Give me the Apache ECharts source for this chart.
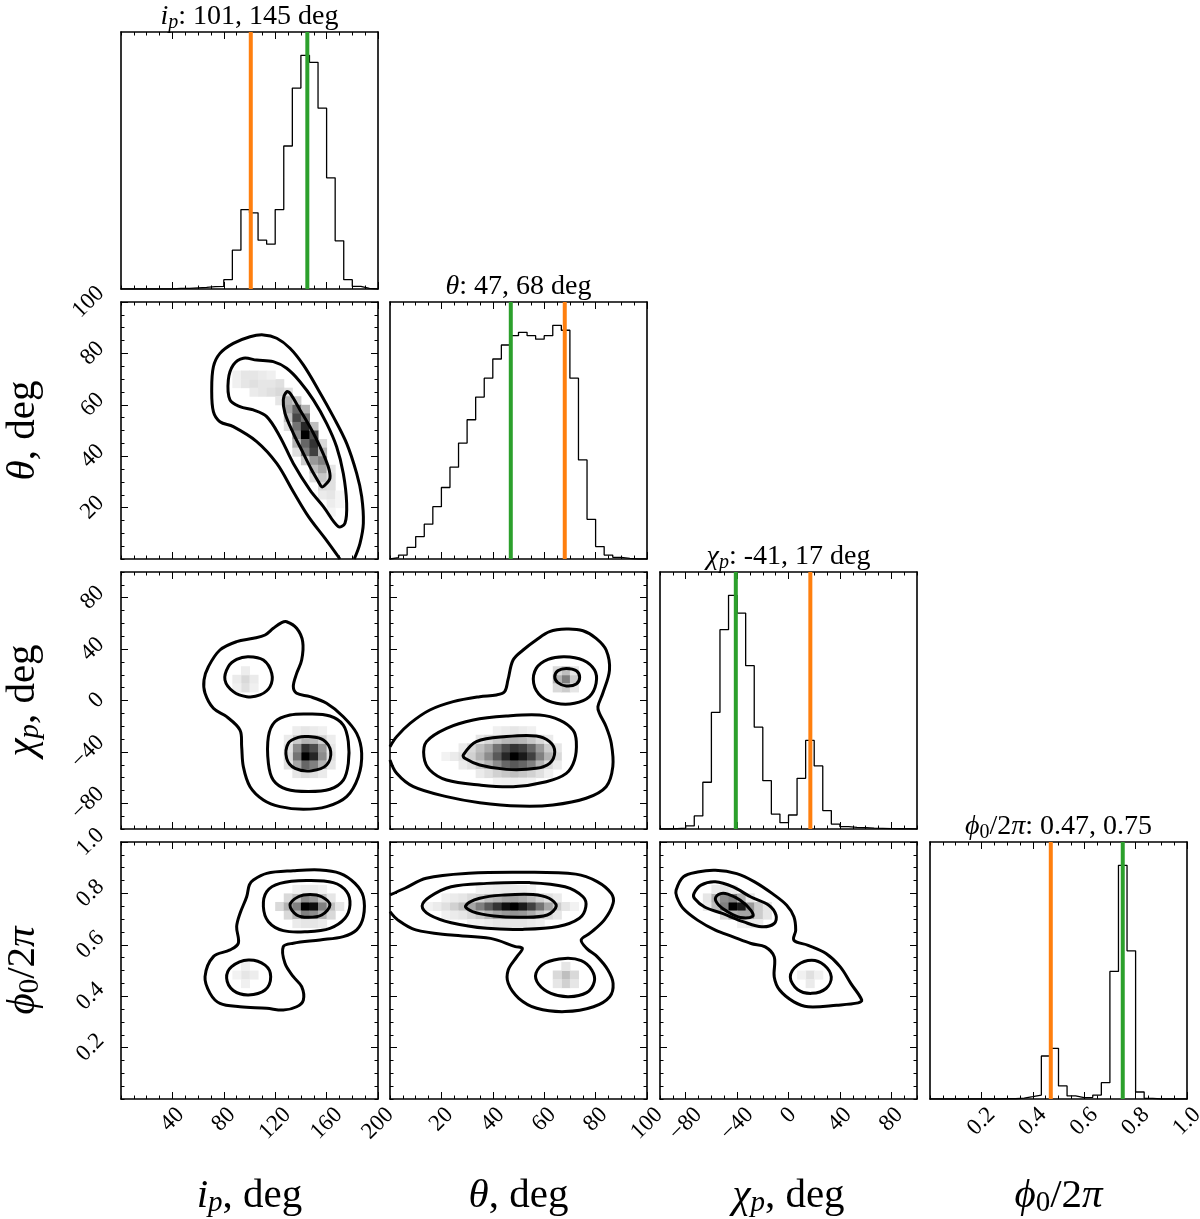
<!DOCTYPE html>
<html>
<head>
<meta charset="utf-8">
<script src="https://cdn.jsdelivr.net/npm/echarts@6/dist/echarts.min.js"></script>
<style>
  html, body { margin: 0; background: #fff; }
  #chart { width: 1200px; height: 1219px; }
</style>
</head>
<body>
<div id="chart"></div>
<script>
'use strict';
const FONT = "'Liberation Serif', 'DejaVu Serif', serif";

// axis ranges and labelled ticks
const ipRange = [0, 200];
const thetaRange = [0, 100];
const chiRange = [-100, 100];
const phiRange = [0, 1];
const ipTicks = [40, 80, 120, 160, 200];
const thetaTicks = [20, 40, 60, 80, 100];
const chiTicks = [-80, -40, 0, 40, 80];
const phiTicks = [0.2, 0.4, 0.6, 0.8, 1.0];

// 1d histograms, 30 bins, peak = 100
const ipHist = [0, 0, 0, 0, 0, 0, 0.3, 0.3, 0.5, 0.7, 1.0, 1.1, 4.0, 16.6, 34.0, 32.6, 20.9, 19.2, 34.0, 61.2, 86.0, 100, 97.0, 77.4, 47.6, 20.6, 4.0, 1.1, 0.3, 0];
const thetaHist = [0.6, 1.7, 5.0, 9.6, 14.9, 22.4, 30.6, 39.3, 49.6, 59.6, 69.3, 77.4, 85.6, 91.6, 95.6, 97.0, 95.6, 94.1, 95.6, 100, 97.9, 77.4, 42.4, 17.0, 5.3, 1.7, 0.7, 0.3, 0, 0];
const chiHist = [0, 0.2, 0.4, 1.3, 5.6, 20.0, 49.9, 85.3, 100, 92.4, 69.9, 43.6, 20.7, 6.4, 2.7, 6.0, 21.7, 37.9, 27.0, 7.9, 2.1, 1.0, 0.7, 0.6, 0.4, 0.3, 0.2, 0.1, 0.1, 0];
const phiHist = [0, 0, 0, 0, 0, 0, 0, 0, 0.1, 0.1, 0.4, 1.0, 1.7, 18.4, 21.7, 5.6, 1.3, 0.6, 0.7, 1.7, 7.0, 54.6, 100, 63.4, 3.0, 0.3, 0, 0, 0, 0];

// marker lines
const ipMarks = { orange: 101, green: 145 };
const thetaMarks = { orange: 68, green: 47 };
const chiMarks = { orange: 17, green: -41 };
const phiMarks = { orange: 0.47, green: 0.75 };

// 2d density cells: [x bin, y bin, darkness]
const thetaIpCells = [
  [13,20,0.06],[14,20,0.1],[15,20,0.12],[16,20,0.1],[17,20,0.1],[18,20,0.12],
  [13,21,0.06],[14,21,0.1],[15,21,0.1],[16,21,0.08],[17,21,0.06],
  [15,19,0.08],[16,19,0.1],[17,19,0.12],[18,19,0.15],[19,19,0.12],[18,18,0.1],
  [19,18,0.3],[19,17,0.35],[19,16,0.25],[19,15,0.12],
  [20,18,0.2],[20,17,0.6],[20,16,0.72],[20,15,0.55],[20,14,0.45],[20,13,0.3],[20,12,0.12],
  [21,17,0.3],[21,16,0.55],[21,15,0.85],[21,14,1.0],[21,13,0.6],[21,12,0.5],[21,11,0.2],
  [22,15,0.25],[22,14,0.7],[22,13,0.8],[22,12,0.75],[22,11,0.4],[22,10,0.25],[22,9,0.12],
  [23,13,0.15],[23,12,0.3],[23,11,0.5],[23,10,0.35],[23,9,0.22],[23,8,0.15],[23,7,0.08],
  [24,10,0.1],[24,9,0.12],[24,8,0.12],[24,7,0.1],[24,6,0.07],[24,5,0.04],[25,7,0.04],[25,6,0.04]
];
const chiIpCells = [
  [21,8,1.0],[22,8,0.85],[21,9,0.8],[22,9,0.7],[20,8,0.55],[20,9,0.45],[23,8,0.45],[23,9,0.4],
  [21,7,0.6],[22,7,0.5],[20,7,0.35],[23,7,0.3],[21,10,0.3],[22,10,0.28],[20,10,0.2],[23,10,0.18],
  [19,7,0.12],[19,8,0.15],[19,9,0.12],[19,10,0.08],[24,7,0.1],[24,8,0.12],[24,9,0.1],[24,10,0.07],
  [20,6,0.1],[21,6,0.14],[22,6,0.12],[23,6,0.08],[20,11,0.07],[21,11,0.1],[22,11,0.08],[23,11,0.06],
  [14,17,0.15],[14,16,0.12],[13,17,0.08],[15,17,0.08],[14,18,0.07],[13,16,0.06],[15,16,0.06]
];
const chiThetaCells = [
  [6,8,0.05],[7,8,0.08],[8,8,0.12],[9,8,0.18],[10,8,0.3],[11,8,0.45],[12,8,0.65],[13,8,0.85],[14,8,1.0],[15,8,0.9],[16,8,0.75],[17,8,0.5],[18,8,0.3],[19,8,0.15],
  [8,9,0.08],[9,9,0.15],[10,9,0.25],[11,9,0.35],[12,9,0.55],[13,9,0.7],[14,9,0.8],[15,9,0.75],[16,9,0.6],[17,9,0.4],[18,9,0.2],[19,9,0.1],
  [8,7,0.08],[9,7,0.12],[10,7,0.2],[11,7,0.3],[12,7,0.45],[13,7,0.6],[14,7,0.65],[15,7,0.6],[16,7,0.5],[17,7,0.3],[18,7,0.15],[19,7,0.08],
  [10,10,0.1],[11,10,0.15],[12,10,0.22],[13,10,0.28],[14,10,0.3],[15,10,0.28],[16,10,0.22],[17,10,0.15],[18,10,0.08],
  [10,6,0.08],[11,6,0.12],[12,6,0.18],[13,6,0.22],[14,6,0.25],[15,6,0.22],[16,6,0.18],[17,6,0.12],[18,6,0.06],
  [12,11,0.06],[13,11,0.08],[14,11,0.1],[15,11,0.08],[16,11,0.06],
  [12,5,0.05],[13,5,0.06],[14,5,0.07],[15,5,0.06],[16,5,0.05],
  [20,17,0.5],[19,17,0.3],[20,18,0.25],[21,17,0.2],[20,16,0.2],[19,18,0.15],[21,16,0.1],[19,16,0.15],[21,18,0.1]
];
const phiIpCells = [
  [18,22,0.15],[19,22,0.3],[20,22,0.5],[21,22,1.0],[22,22,0.95],[23,22,0.5],[24,22,0.25],[25,22,0.1],
  [19,21,0.15],[20,21,0.3],[21,21,0.5],[22,21,0.45],[23,21,0.3],[24,21,0.15],
  [19,23,0.15],[20,23,0.25],[21,23,0.45],[22,23,0.4],[23,23,0.25],[24,23,0.1],
  [20,20,0.08],[21,20,0.1],[22,20,0.1],[23,20,0.08],[20,24,0.06],[21,24,0.08],[22,24,0.08],[23,24,0.06],
  [14,14,0.1],[15,14,0.07],[14,13,0.06],[14,15,0.06],[13,14,0.05]
];
const phiThetaCells = [
  [4,22,0.05],[5,22,0.08],[6,22,0.12],[7,22,0.18],[8,22,0.25],[9,22,0.35],[10,22,0.5],[11,22,0.65],[12,22,0.8],[13,22,0.95],[14,22,1.0],[15,22,0.9],[16,22,0.75],[17,22,0.55],[18,22,0.35],[19,22,0.2],[20,22,0.1],[21,22,0.05],
  [6,21,0.06],[7,21,0.08],[8,21,0.1],[9,21,0.15],[10,21,0.2],[11,21,0.28],[12,21,0.35],[13,21,0.4],[14,21,0.42],[15,21,0.4],[16,21,0.32],[17,21,0.22],[18,21,0.15],[19,21,0.1],
  [6,23,0.06],[7,23,0.08],[8,23,0.1],[9,23,0.14],[10,23,0.18],[11,23,0.25],[12,23,0.3],[13,23,0.35],[14,23,0.36],[15,23,0.32],[16,23,0.26],[17,23,0.18],[18,23,0.12],[19,23,0.08],
  [9,20,0.05],[10,20,0.06],[11,20,0.08],[12,20,0.1],[13,20,0.1],[14,20,0.1],[15,20,0.1],[16,20,0.08],[17,20,0.06],
  [10,24,0.05],[11,24,0.06],[12,24,0.07],[13,24,0.08],[14,24,0.08],[15,24,0.07],[16,24,0.05],
  [20,14,0.25],[19,14,0.15],[21,14,0.15],[20,13,0.18],[19,13,0.1],[21,13,0.1],[20,15,0.1]
];
const phiChiCells = [
  [5,22,0.08],[6,22,0.25],[7,22,0.5],[8,22,1.0],[9,22,0.9],[10,22,0.4],[11,22,0.2],[12,22,0.1],
  [5,23,0.1],[6,23,0.3],[7,23,0.45],[8,23,0.5],[9,23,0.3],[10,23,0.1],
  [7,21,0.15],[8,21,0.3],[9,21,0.35],[10,21,0.35],[11,21,0.2],[12,21,0.1],
  [6,24,0.08],[7,24,0.1],[8,24,0.08],[9,20,0.06],[10,20,0.08],[11,20,0.08],
  [17,14,0.12],[17,13,0.08],[16,14,0.06],[18,14,0.06]
];

// contour lines, data units
const thetaIpOuter = [[170.4,0],[158.8,8.0],[145.9,16.5],[134.1,26.2],[121.2,37.2],[105.6,45.7],[87.4,51.5],[77.0,53.4],[71.9,57.3],[70.6,65.8],[71.9,74.8],[77.0,80.0],[87.4,83.9],[100.4,86.5],[110.8,87.2],[121.2,85.9],[131.5,82.0],[141.9,75.5],[153.6,65.8],[165.2,55.4],[175.6,45.0],[183.4,33.3],[187.3,24.3],[188.6,13.9],[186.0,6.1],[181.5,0]];
const thetaIpMid = [[169.1,12.6],[157.5,20.4],[147.1,26.8],[134.1,37.2],[123.7,47.6],[113.4,55.4],[103.0,58.0],[92.6,59.3],[84.8,61.9],[83.5,69.6],[87.4,75.5],[95.2,78.1],[105.6,77.4],[118.5,76.8],[128.9,74.2],[139.3,69.0],[149.7,61.9],[160.0,52.8],[167.8,43.7],[173.0,33.3],[175.6,21.7],[174.3,13.9]];
const thetaIpInner = [[128.9,65.1],[126.3,61.9],[127.6,56.7],[134.1,48.9],[141.9,41.1],[148.4,34.6],[153.6,30.1],[156.2,28.1],[158.8,28.8],[162.6,31.4],[161.3,35.9],[154.9,43.7],[148.4,50.2],[139.3,58.0],[131.5,64.5]];

const chiIpOuter = [[128.9,61.3],[136.7,56.2],[141.4,45.8],[140.6,31.5],[136.7,21.1],[134.1,10.8],[136.7,5.6],[147.1,3.0],[160.0,-2.2],[173.0,-12.6],[183.4,-25.6],[187.3,-41.1],[184.7,-59.3],[175.6,-74.8],[160.0,-82.6],[141.9,-84.7],[123.7,-82.6],[110.8,-77.4],[100.4,-67.1],[95.2,-51.5],[93.9,-35.9],[92.6,-23.0],[82.2,-12.6],[71.9,-6.1],[65.4,5.6],[64.6,16.0],[68.0,26.3],[77.0,39.3],[90.0,45.8],[103.0,48.4],[112.1,51.0],[118.5,56.2],[125.0,60.6]];
const chiIpMidA = [[99.1,34.1],[110.8,31.5],[117.3,21.1],[116.0,10.8],[108.2,4.3],[97.8,3.0],[87.4,6.9],[80.9,16.0],[83.5,26.3],[90.0,32.0]];
const chiIpMidB = [[145.8,-10.5],[162.6,-12.1],[173.0,-19.1],[176.9,-32.0],[176.9,-48.9],[173.0,-61.9],[162.6,-69.1],[145.8,-70.9],[128.9,-69.1],[118.5,-61.9],[114.7,-48.9],[114.7,-28.1],[119.8,-16.5],[131.5,-11.3]];
const chiIpInner = [[145.8,-28.1],[157.5,-30.7],[163.2,-39.8],[160.0,-50.2],[148.4,-54.6],[135.4,-52.8],[128.9,-45.0],[130.2,-33.3],[138.0,-28.7]];

const chiThetaOuter = [[0,-46.3],[2.6,-56.7],[9.1,-67.1],[22.0,-74.8],[34.9,-79.5],[50.5,-82.1],[63.4,-81.3],[76.3,-76.1],[84.1,-67.1],[86.7,-51.5],[86.1,-33.3],[84.1,-20.4],[81.5,-10.0],[80.9,-4.8],[82.8,5.6],[85.4,23.7],[84.1,39.3],[80.2,48.4],[75.1,54.3],[68.6,55.6],[62.1,53.6],[56.9,47.1],[51.8,39.3],[47.9,31.5],[45.9,16.0],[44.6,6.9],[41.4,4.3],[34.9,3.0],[24.6,-0.9],[15.5,-7.4],[7.8,-17.8],[2.6,-28.1],[0,-35.9]];
const chiThetaMidA = [[14.2,-32.0],[22.0,-21.7],[32.4,-15.2],[45.3,-12.1],[58.2,-11.3],[66.0,-15.2],[71.2,-23.0],[72.5,-32.0],[71.8,-46.3],[68.6,-56.7],[60.8,-63.2],[47.9,-67.1],[34.9,-65.8],[22.0,-61.9],[15.5,-54.1],[13.2,-43.7]];
const chiThetaMidB = [[67.9,34.1],[75.1,31.5],[79.6,23.7],[80.2,13.4],[77.6,3.0],[71.8,-2.2],[64.7,-2.2],[58.9,3.0],[55.9,13.4],[56.9,25.0],[61.5,32.0]];
const chiThetaInnerA = [[28.5,-42.4],[33.6,-32.0],[45.3,-28.1],[56.9,-27.6],[62.1,-32.0],[64.1,-39.8],[62.1,-48.9],[56.9,-52.8],[45.3,-53.6],[34.9,-50.2],[29.1,-45.0]];
const chiThetaInnerB = [[68.6,25.0],[72.5,23.2],[73.8,18.0],[72.5,12.8],[68.6,11.3],[65.3,13.9],[64.1,18.5],[65.3,23.2]];

const phiIpOuter = [[103.0,0.852],[113.4,0.878],[134.1,0.888],[154.9,0.891],[170.4,0.878],[182.1,0.839],[188.6,0.787],[188.6,0.709],[183.4,0.658],[173.0,0.632],[154.9,0.619],[134.1,0.606],[126.3,0.593],[127.6,0.528],[134.1,0.476],[140.6,0.437],[141.9,0.385],[136.7,0.359],[126.3,0.346],[113.4,0.353],[92.6,0.359],[77.0,0.372],[69.3,0.411],[65.4,0.476],[71.9,0.554],[84.8,0.580],[91.3,0.606],[90.0,0.671],[92.6,0.722],[97.8,0.787],[99.9,0.833]];
const phiIpMidA = [[144.5,0.850],[165.2,0.842],[175.6,0.807],[178.2,0.755],[174.3,0.703],[162.6,0.664],[144.5,0.651],[126.3,0.655],[114.7,0.690],[110.8,0.748],[113.4,0.807],[123.7,0.839]];
const phiIpMidB = [[99.1,0.541],[112.1,0.521],[116.5,0.476],[112.1,0.424],[99.1,0.405],[87.4,0.422],[82.2,0.470],[86.1,0.515]];
const phiIpInner = [[131.5,0.755],[138.0,0.787],[147.1,0.796],[156.2,0.787],[162.6,0.755],[156.2,0.716],[145.8,0.707],[136.7,0.716]];

const phiThetaOuter = [[0,0.794],[5.8,0.820],[14.1,0.859],[30.7,0.878],[51.5,0.882],[72.3,0.875],[80.6,0.846],[86.1,0.800],[86.8,0.761],[83.4,0.697],[77.8,0.645],[74.4,0.619],[76.5,0.586],[80.6,0.554],[84.8,0.502],[86.8,0.450],[85.5,0.398],[79.2,0.359],[68.1,0.340],[57.1,0.353],[50.1,0.392],[46.0,0.450],[46.0,0.502],[49.4,0.554],[51.5,0.586],[48.8,0.593],[39.1,0.625],[23.8,0.638],[10.0,0.658],[3.0,0.697],[0,0.729]];
const phiThetaMidA = [[12.5,0.751],[15.5,0.787],[23.8,0.826],[37.7,0.839],[54.3,0.842],[68.1,0.826],[75.1,0.787],[76.2,0.748],[73.7,0.703],[65.4,0.671],[51.5,0.660],[37.7,0.664],[23.8,0.686],[15.5,0.716]];
const phiThetaMidB = [[68.1,0.547],[74.4,0.538],[78.5,0.502],[79.5,0.457],[76.5,0.414],[69.5,0.398],[62.6,0.411],[57.8,0.447],[56.8,0.489],[60.5,0.530]];
const phiThetaInner = [[29.4,0.751],[34.9,0.781],[44.6,0.794],[55.7,0.796],[61.9,0.781],[64.7,0.751],[61.2,0.716],[51.5,0.707],[40.4,0.712],[32.1,0.729]];

const phiChiOuter = [[-81.9,0.864],[-70.8,0.883],[-56.9,0.890],[-40.3,0.877],[-26.4,0.845],[-12.5,0.799],[-1.4,0.754],[4.2,0.709],[5.6,0.657],[4.2,0.618],[15.3,0.598],[29.2,0.566],[40.3,0.514],[48.6,0.449],[57.0,0.385],[54.2,0.374],[37.5,0.365],[15.3,0.359],[4.2,0.378],[-6.9,0.424],[-11.1,0.475],[-11.1,0.553],[-18.1,0.592],[-29.2,0.605],[-43.1,0.631],[-56.9,0.657],[-70.8,0.696],[-81.9,0.741],[-86.9,0.786],[-87.5,0.812]];
const phiChiMidA = [[-73.6,0.799],[-68.1,0.832],[-56.9,0.845],[-43.1,0.825],[-29.2,0.786],[-15.3,0.754],[-9.7,0.715],[-11.1,0.683],[-20.8,0.670],[-34.7,0.689],[-51.4,0.722],[-65.3,0.747],[-73.1,0.780]];
const phiChiMidB = [[18.1,0.540],[27.8,0.521],[33.3,0.475],[29.2,0.430],[18.1,0.411],[7.0,0.426],[1.4,0.475],[7.0,0.521]];
const phiChiInner = [[-56.9,0.780],[-52.8,0.799],[-47.2,0.797],[-37.5,0.773],[-29.2,0.734],[-27.8,0.711],[-37.5,0.706],[-47.2,0.728],[-54.2,0.754]];

// text
const ipTitle = '{i|i}{s|p}{r|: 101, 145 deg}';
const thetaTitle = '{i|θ}{r|: 47, 68 deg}';
const chiTitle = '{i|χ}{s|p}{r|: -41, 17 deg}';
const phiTitle = '{i|ϕ}{s0|0}{r|/2}{i|π}{r|: 0.47, 0.75}';
const ipLabel = '{i|i}{s|p}{r|, deg}';
const thetaLabel = '{i|θ}{r|, deg}';
const chiLabel = '{i|χ}{s|p}{r|, deg}';
const phiLabel = '{i|ϕ}{s0|0}{r|/2}{i|π}';

// axis titles: subscript on a shorter line box aligned to the bottom
const bigBase = { fontFamily: FONT, color: '#000', fontSize: 41, lineHeight: 44 };
const bigSub = { fontFamily: FONT, color: '#000', fontSize: 29, lineHeight: 26, verticalAlign: 'bottom' };
const BIG = {
  r: bigBase,
  i: Object.assign({}, bigBase, { fontStyle: 'italic' }),
  s: Object.assign({}, bigSub, { fontStyle: 'italic' }),
  s0: bigSub
};
// panel titles: subscript pushed down by its top padding
const smallBase = { fontFamily: FONT, color: '#000', fontSize: 28, lineHeight: 33 };
const smallSub = { fontFamily: FONT, color: '#000', fontSize: 20, lineHeight: 33, padding: [12, 0, 0, 0] };
const SMALL = {
  r: smallBase,
  i: Object.assign({}, smallBase, { fontStyle: 'italic' }),
  s: Object.assign({}, smallSub, { fontStyle: 'italic' }),
  s0: smallSub
};
const TICK_SIZE = 23;
const TICK_RICH = { t: { fontFamily: FONT, fontSize: TICK_SIZE, lineHeight: 26, fill: '#000', color: '#000' } };

const plainFmt = v => String(v).replace('-', '\u2212');
const PARAMS = [
  { range: ipRange, ticks: ipTicks, hist: ipHist, marks: ipMarks, title: ipTitle, label: ipLabel, fmt: plainFmt },
  { range: thetaRange, ticks: thetaTicks, hist: thetaHist, marks: thetaMarks, title: thetaTitle, label: thetaLabel, fmt: plainFmt },
  { range: chiRange, ticks: chiTicks, hist: chiHist, marks: chiMarks, title: chiTitle, label: chiLabel, fmt: plainFmt },
  { range: phiRange, ticks: phiTicks, hist: phiHist, marks: phiMarks, title: phiTitle, label: phiLabel, fmt: v => Number(v).toFixed(1) }
];
const HIST_Y = { range: [0, 110], ticks: [] };

// off-diagonal panels keyed "row,col"
const PAIRS = {
  '1,0': { cells: thetaIpCells, lines: [[thetaIpOuter, false], [thetaIpMid, true], [thetaIpInner, true]] },
  '2,0': { cells: chiIpCells, lines: [[chiIpOuter, true], [chiIpMidA, true], [chiIpMidB, true], [chiIpInner, true]] },
  '2,1': { cells: chiThetaCells, lines: [[chiThetaOuter, false], [chiThetaMidA, true], [chiThetaMidB, true], [chiThetaInnerA, true], [chiThetaInnerB, true]] },
  '3,0': { cells: phiIpCells, lines: [[phiIpOuter, true], [phiIpMidA, true], [phiIpMidB, true], [phiIpInner, true]] },
  '3,1': { cells: phiThetaCells, lines: [[phiThetaOuter, false], [phiThetaMidA, true], [phiThetaMidB, true], [phiThetaInner, true]] },
  '3,2': { cells: phiChiCells, lines: [[phiChiOuter, true], [phiChiMidA, true], [phiChiMidB, true], [phiChiInner, true]] }
};

const GRID_LEFT = [121, 390, 660, 930];
const GRID_TOP = [32, 302, 572, 842];
const SIZE = 257;

// frame side with the long ticks (and the axis title)
function majorAxis(g, pos, param, opt) {
  const isX = pos === 'bottom' || pos === 'top';
  const ax = {
    type: 'value', gridIndex: g, position: pos,
    min: param.range[0], max: param.range[1],
    axisLine: { show: true, onZero: false, lineStyle: { color: '#000', width: 1.6 } },
    axisTick: { show: !opt.noTicks, inside: true, length: 7, customValues: param.ticks, lineStyle: { color: '#000', width: 1 } },
    axisLabel: { show: false },
    splitLine: { show: false }
  };
  if (opt.name) {
    ax.name = opt.name;
    ax.nameLocation = 'middle';
    ax.nameGap = opt.nameGap;
    ax.nameRotate = isX ? 0 : 90;
    ax.nameTextStyle = { fontFamily: FONT, color: '#000', rich: opt.rich };
  }
  return ax;
}

// short ticks every 1/20 of the range
function minorAxis(g, pos, range, showTicks) {
  return {
    type: 'value', gridIndex: g, position: pos,
    min: range[0], max: range[1], interval: (range[1] - range[0]) / 20,
    axisLine: { show: false, onZero: false },
    axisTick: { show: showTicks, inside: true, length: 3.5, lineStyle: { color: '#000', width: 1 } },
    axisLabel: { show: false },
    splitLine: { show: false }
  };
}

// rotated tick labels placed through the axis scale, like matplotlib's 45 degree labels
function halfDiag(text) {
  let w = 0;
  for (const ch of text) w += ch === '.' ? 0.25 : ch === '\u2212' ? 0.56 : 0.5;
  return (w * TICK_SIZE + 0.66 * TICK_SIZE) / (2 * Math.SQRT2);
}
function tickLabelSeries(g, dim, param, other) {
  return {
    type: 'custom', xAxisIndex: 4 * g, yAxisIndex: 4 * g, silent: true, clip: false, z: 6,
    data: param.ticks.map(t => dim === 'x' ? [t, other] : [other, t]),
    renderItem: (params, api) => {
      const v = dim === 'x' ? api.value(0) : api.value(1);
      const p = api.coord([api.value(0), api.value(1)]);
      const text = param.fmt(v);
      const h = halfDiag(text);
      return {
        type: 'text',
        x: dim === 'x' ? p[0] : p[0] - 15 - h,
        y: dim === 'x' ? p[1] + 7 + h : p[1],
        rotation: Math.PI / 4,
        style: {
          text: '{t|' + text + '}', rich: TICK_RICH,
          fontFamily: FONT, fontSize: TICK_SIZE, fill: '#000',
          align: 'center', verticalAlign: 'middle'
        }
      };
    }
  };
}

function cellSeries(g, xr, yr, cells) {
  const wx = (xr[1] - xr[0]) / 30, wy = (yr[1] - yr[0]) / 30;
  return {
    type: 'custom', xAxisIndex: 4 * g, yAxisIndex: 4 * g, silent: true, z: 1,
    data: cells.map(([ix, iy, v]) => [xr[0] + ix * wx, yr[0] + iy * wy, xr[0] + (ix + 1) * wx, yr[0] + (iy + 1) * wy, v]),
    encode: { x: [0, 2], y: [1, 3] },
    renderItem: (params, api) => {
      const a = api.coord([api.value(0), api.value(3)]);
      const b = api.coord([api.value(2), api.value(1)]);
      const c = Math.round(255 * (1 - api.value(4)));
      return {
        type: 'rect',
        shape: { x: a[0], y: a[1], width: b[0] - a[0] + 0.5, height: b[1] - a[1] + 0.5 },
        style: { fill: 'rgb(' + c + ',' + c + ',' + c + ')' }
      };
    }
  };
}

function contourSeries(g, pts, closed) {
  return {
    type: 'custom', xAxisIndex: 4 * g, yAxisIndex: 4 * g, silent: true, z: 3,
    data: pts,
    renderItem: (params, api) => {
      if (params.dataIndex !== 0) return null;
      return {
        type: closed ? 'polygon' : 'polyline',
        shape: { points: pts.map(p => api.coord(p)), smooth: 0.35 },
        style: { fill: 'none', stroke: '#000', lineWidth: 3, lineJoin: 'round' }
      };
    }
  };
}

function histSeries(g, range, hist) {
  const w = (range[1] - range[0]) / hist.length;
  const data = [[range[0], 0]];
  hist.forEach((h, i) => data.push([range[0] + i * w, h]));
  data.push([range[1], hist[hist.length - 1]], [range[1], 0]);
  return {
    type: 'line', step: 'end', xAxisIndex: 4 * g, yAxisIndex: 4 * g, data,
    symbol: 'none', silent: true, z: 2, lineStyle: { color: '#000', width: 1.3 }
  };
}

function markSeries(g, x, color) {
  return {
    type: 'line', xAxisIndex: 4 * g, yAxisIndex: 4 * g, data: [[x, 0], [x, 110]],
    symbol: 'none', silent: true, z: 4, lineStyle: { color: color, width: 4 }
  };
}

const grids = [], xAxes = [], yAxes = [], series = [];
const panels = [];
for (let r = 0; r < 4; r++) for (let c = 0; c <= r; c++) panels.push({ r, c });

panels.forEach((p, g) => {
  const xp = PARAMS[p.c];
  const isHist = p.r === p.c;
  const bottomRow = p.r === 3;
  const yp = isHist ? HIST_Y : PARAMS[p.r];
  grids.push({ left: GRID_LEFT[p.c], top: GRID_TOP[p.r], width: SIZE, height: SIZE, containLabel: false, outerBoundsMode: 'none' });

  xAxes.push(
    majorAxis(g, 'bottom', xp, { name: bottomRow ? xp.label : null, nameGap: 75, rich: BIG }),
    minorAxis(g, 'bottom', xp.range, true),
    majorAxis(g, 'top', xp, { name: isHist ? xp.title : null, nameGap: -1, rich: SMALL }),
    minorAxis(g, 'top', xp.range, true)
  );

  if (isHist) {
    yAxes.push(
      majorAxis(g, 'left', HIST_Y, { noTicks: true }),
      minorAxis(g, 'left', HIST_Y.range, false),
      majorAxis(g, 'right', HIST_Y, { noTicks: true }),
      minorAxis(g, 'right', HIST_Y.range, false)
    );
    series.push(histSeries(g, xp.range, xp.hist));
    series.push(markSeries(g, xp.marks.orange, '#ff7f0e'));
    series.push(markSeries(g, xp.marks.green, '#2ca02c'));
  } else {
    const leftCol = p.c === 0;
    yAxes.push(
      majorAxis(g, 'left', yp, { name: leftCol ? yp.label : null, nameGap: 76, rich: BIG }),
      minorAxis(g, 'left', yp.range, true),
      majorAxis(g, 'right', yp, {}),
      minorAxis(g, 'right', yp.range, true)
    );
    const pair = PAIRS[p.r + ',' + p.c];
    series.push(cellSeries(g, xp.range, yp.range, pair.cells));
    pair.lines.forEach(([pts, closed]) => series.push(contourSeries(g, pts, closed)));
    if (leftCol) series.push(tickLabelSeries(g, 'y', yp, xp.range[0]));
  }
  if (bottomRow) series.push(tickLabelSeries(g, 'x', xp, yp.range[0]));
});

const chart = echarts.init(document.getElementById('chart'), null, { renderer: 'canvas', width: 1200, height: 1219 });
chart.setOption({
  animation: false,
  backgroundColor: '#fff',
  textStyle: { fontFamily: FONT },
  grid: grids,
  xAxis: xAxes,
  yAxis: yAxes,
  series: series
});
</script>
</body>
</html>
